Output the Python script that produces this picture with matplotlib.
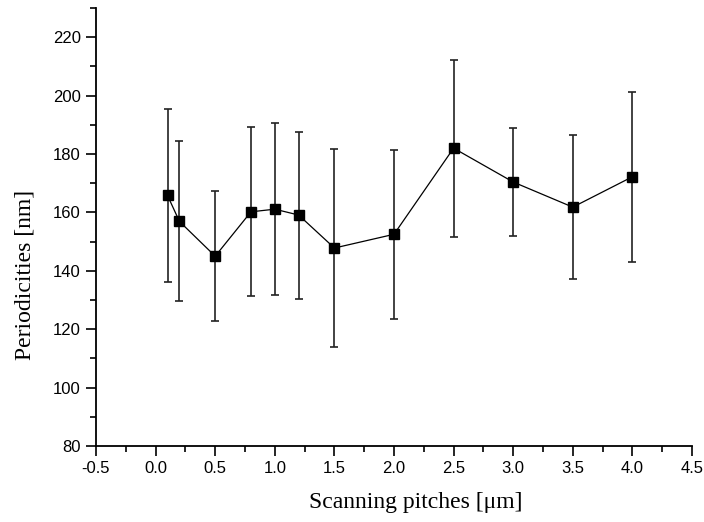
import numpy as np
import matplotlib
matplotlib.use("Agg")
import matplotlib.pyplot as plt
from matplotlib.ticker import MultipleLocator

# === data ===
pitch = [0.1, 0.2, 0.5, 0.8, 1.0, 1.2, 1.5, 2.0, 2.5, 3.0, 3.5, 4.0]
period = [165.8, 156.9, 145.0, 160.2, 161.1, 159.1, 147.8, 152.5, 182.0, 170.4, 161.8, 172.2]
err = [29.5, 27.4, 22.3, 29.0, 29.4, 28.6, 34.0, 29.0, 30.3, 18.5, 24.6, 29.2]

xticks = [-0.5, 0.0, 0.5, 1.0, 1.5, 2.0, 2.5, 3.0, 3.5, 4.0, 4.5]
yticks = [80, 100, 120, 140, 160, 180, 200, 220]

plt.rcParams["axes.unicode_minus"] = False

# === figure ===
fig = plt.figure(figsize=(7.04, 5.22), dpi=100)
ax = fig.add_axes([96 / 704, 1 - 446 / 522, 596 / 704, 438 / 522])

ax.errorbar(pitch, period, yerr=err, color="black", linewidth=0.9,
            marker="s", markersize=7, markerfacecolor="black",
            ecolor="#222222", elinewidth=1.2, capsize=3, capthick=1.2)

ax.set_xlim(-0.5, 4.5)
ax.set_ylim(80, 230)
ax.set_xticks(xticks)
ax.set_yticks(yticks)
ax.xaxis.set_minor_locator(MultipleLocator(0.25))
ax.yaxis.set_minor_locator(MultipleLocator(10))

ax.spines["top"].set_visible(False)
ax.spines["right"].set_visible(False)
ax.spines["left"].set_linewidth(1.3)
ax.spines["bottom"].set_linewidth(1.3)

ax.tick_params(which="major", direction="out", length=7, width=1.2, pad=4,
               labelsize=12)
ax.tick_params(which="minor", direction="out", length=4, width=1.2)
for lab in ax.get_xticklabels() + ax.get_yticklabels():
    lab.set_fontfamily("Liberation Sans")

ax.set_xlabel("Scanning pitches [\u03bcm]", fontsize=17, family="Liberation Serif")
ax.set_ylabel("Periodicities [nm]", fontsize=17, family="Liberation Serif")
ax.xaxis.set_label_coords(0.537, -0.105)
ax.yaxis.set_label_coords(-0.102, 0.39)

fig.savefig("out.png", dpi=100)
